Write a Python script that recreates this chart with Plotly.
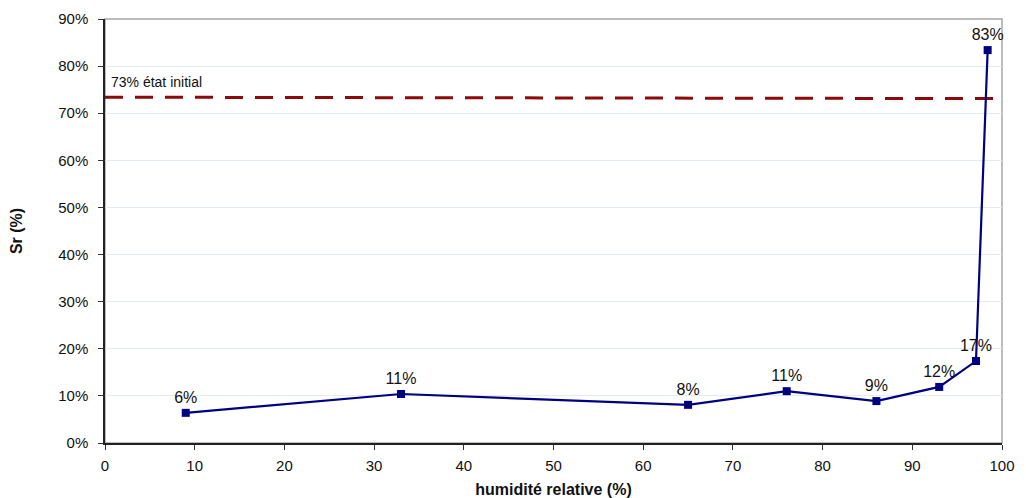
import plotly.graph_objects as go

hr = [9, 33, 65, 76, 86, 93, 97.1, 98.4]
sr = [6.4, 10.4, 8.1, 11.0, 8.9, 11.9, 17.4, 83.4]
labels = ["6%", "11%", "8%", "11%", "9%", "12%", "17%", "83%"]

init_x = [0, 100]
init_y = [73.4, 73.1]
init_label = "73% état initial"

x_ticks = list(range(0, 101, 10))
y_ticks = list(range(0, 91, 10))
y_ticklabels = [f"{v}%" for v in y_ticks]

fig = go.Figure()
fig.add_trace(go.Scatter(
    x=init_x, y=init_y, mode="lines",
    line=dict(color="#8b0a0a", width=3, dash="18px,12px"),
    hoverinfo="skip", showlegend=False, cliponaxis=False))
fig.add_trace(go.Scatter(
    x=hr, y=sr, mode="lines+markers+text",
    line=dict(color="#000080", width=2.2),
    marker=dict(symbol="square", size=8, color="#000080"),
    text=labels, textposition="top center",
    textfont=dict(family="Liberation Sans, Arial", size=16, color="#111111"),
    showlegend=False, cliponaxis=False))

fig.add_annotation(x=0.5, y=init_y[0], text=init_label, showarrow=False,
                   xanchor="left", yanchor="bottom", yshift=5,
                   font=dict(family="Liberation Sans, Arial", size=14, color="#111111"))

fig.add_shape(type="rect", xref="paper", yref="paper", x0=0, y0=0, x1=1, y1=1,
              line=dict(color="#a6a6a6", width=1.5), layer="below")

fig.update_layout(
    width=1018, height=490,
    margin=dict(l=97, r=24, t=11, b=55),
    plot_bgcolor="white", paper_bgcolor="white",
    font=dict(family="Liberation Sans, Arial", size=15, color="#111111"),
    xaxis=dict(range=[0, 100], tickvals=x_ticks, ticks="outside", ticklen=5,
               tickcolor="#333333", showline=True, linecolor="#222222", linewidth=1.5,
               showgrid=False, zeroline=False, automargin=False, ticklabelstandoff=3,
               title=dict(text="<b>humidité relative (%)</b>", standoff=12,
                          font=dict(size=16))),
    yaxis=dict(range=[0, 90], tickvals=y_ticks, ticktext=y_ticklabels,
               ticks="outside", ticklen=5, tickcolor="#333333", ticklabelstandoff=7,
               showline=True, linecolor="#222222", linewidth=1.5, automargin=False,
               showgrid=True, gridcolor="#e3eaf0", gridwidth=1, zeroline=False,
               title=dict(text="<b>Sr (%)</b>", standoff=33, font=dict(size=16))),
)

fig.write_html("out.html")
